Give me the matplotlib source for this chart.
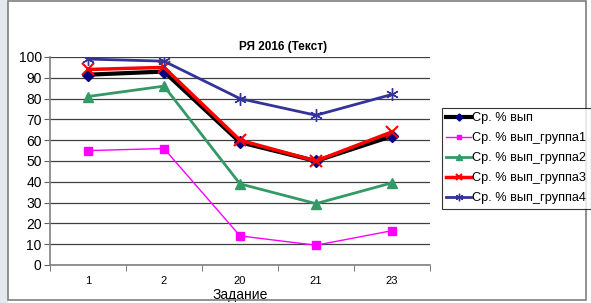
import numpy as np
import matplotlib.pyplot as plt
from matplotlib.patches import Rectangle

plt.rcParams['font.family'] = ['Liberation Sans', 'DejaVu Sans']

# data
tasks = ['1', '2', '20', '21', '23']
avg_all = [91.5, 93, 59, 50, 62]
group1 = [55, 56, 14, 9.5, 16.5]
group2 = [81, 86, 39, 29.5, 39.5]
group3 = [94, 95, 60, 50, 64]
group4 = [99, 98, 80, 72, 82]

W, H = 591, 303
fig = plt.figure(figsize=(W / 100, H / 100), dpi=100)
fig.patch.set_facecolor('white')

# light strip and outer frame
fig.patches.append(Rectangle((0, 0), 8 / W, 1, transform=fig.transFigure,
                             facecolor='#e3e9ef', edgecolor='none', zorder=0))
fig.patches.append(Rectangle((8 / W, 3 / H), 578 / W, (H - 4) / H,
                             transform=fig.transFigure, facecolor='none',
                             edgecolor='#7f7f7f', linewidth=1.2, zorder=5))

ax = fig.add_axes([50 / W, 1 - 265 / H, 380 / W, (265 - 57) / H])
x = np.arange(len(tasks))

series = [
    ('Ср. % вып', avg_all, dict(color='black', lw=3.0, marker='D', ms=6,
                                 mfc='#000080', mec='#000080')),
    ('Ср. % вып_группа1', group1, dict(color='#ff00ff', lw=1.0, marker='s', ms=6,
                                         mfc='#ff00ff', mec='#ff00ff')),
    ('Ср. % вып_группа2', group2, dict(color='#339966', lw=2.0, marker='^', ms=7,
                                         mfc='#339966', mec='#339966')),
    ('Ср. % вып_группа3', group3, dict(color='#ff0000', lw=2.5, marker='x', ms=8,
                                         mew=1.5, mec='#ff0000')),
    ('Ср. % вып_группа4', group4, dict(color='#333399', lw=2.0, marker=(6, 2, 0), ms=9,
                                         mew=1.0, mec='#333399')),
]

lines = []
for name, vals, st in series:
    ln, = ax.plot(x, vals, label=name, zorder=3, **st)
    lines.append(ln)

ax.set_xlim(-0.5, len(tasks) - 0.5)
ax.set_ylim(0, 100)
ax.set_yticks(np.arange(0, 101, 10))
ax.set_xticks(x)
ax.set_xticklabels(tasks)
ax.set_xticks(np.arange(-0.5, len(tasks), 1), minor=True)
ax.tick_params(axis='x', which='major', length=0, pad=8, labelsize=8)
ax.tick_params(axis='x', which='minor', length=4, direction='out', color='#606060')
ax.tick_params(axis='y', length=4, direction='out', labelsize=10, color='#606060', pad=2)
ax.grid(axis='y', color='#404040', lw=0.9)
ax.set_axisbelow(True)
for side in ['top', 'right']:
    ax.spines[side].set_visible(False)
for side in ['left', 'bottom']:
    ax.spines[side].set_color('#808080')
    ax.spines[side].set_linewidth(1.2)

ax.set_xlabel('Задание', fontsize=10, labelpad=1)
fig.text(283 / W, 1 - 47 / H, 'РЯ 2016 (Текст)', ha='center', va='center',
         fontsize=8.5, fontweight='bold')

leg = fig.legend(handles=lines, loc='upper left',
                 bbox_to_anchor=(442 / W, 1 - 108 / H), fontsize=9.2,
                 frameon=True, fancybox=False, edgecolor='black',
                 handlelength=1.9, handletextpad=0.1, borderpad=0.35,
                 labelspacing=0.62, borderaxespad=0, markerscale=0.6)
leg.get_frame().set_linewidth(0.8)

plt.savefig('out.png', dpi=100)
plt.close()
